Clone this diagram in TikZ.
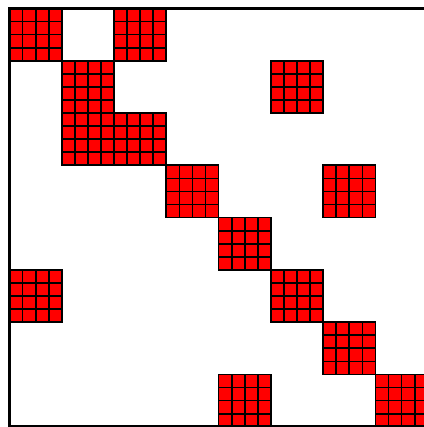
\documentclass[tikz,border=0pt]{standalone}
\usetikzlibrary{positioning}
\tikzset{
  cell/.style={draw=black,line width=1.5pt,fill=red},
  frame/.style={draw=black,line width=2.6pt},
}
\begin{document}
\begin{tikzpicture}[x=4mm,y=-4mm]
\useasboundingbox (-0.727,-0.65) rectangle (31.64,32.02);

% --- nonzero blocks, as row/col of the 8x8 block pattern
\foreach \r/\c in {0/0,0/2,1/1,1/5,2/1,2/2,3/3,3/6,4/4,5/0,5/5,6/6,7/4,7/7}{
  \foreach \i in {0,...,3}{
    \foreach \j in {0,...,3}{
      \draw[cell] (4*\c+\j,4*\r+\i) rectangle ++(1,1);
    }
  }
}

% --- outer frame
\draw[frame] (0,0) rectangle (32,32);

\end{tikzpicture}
\end{document}
